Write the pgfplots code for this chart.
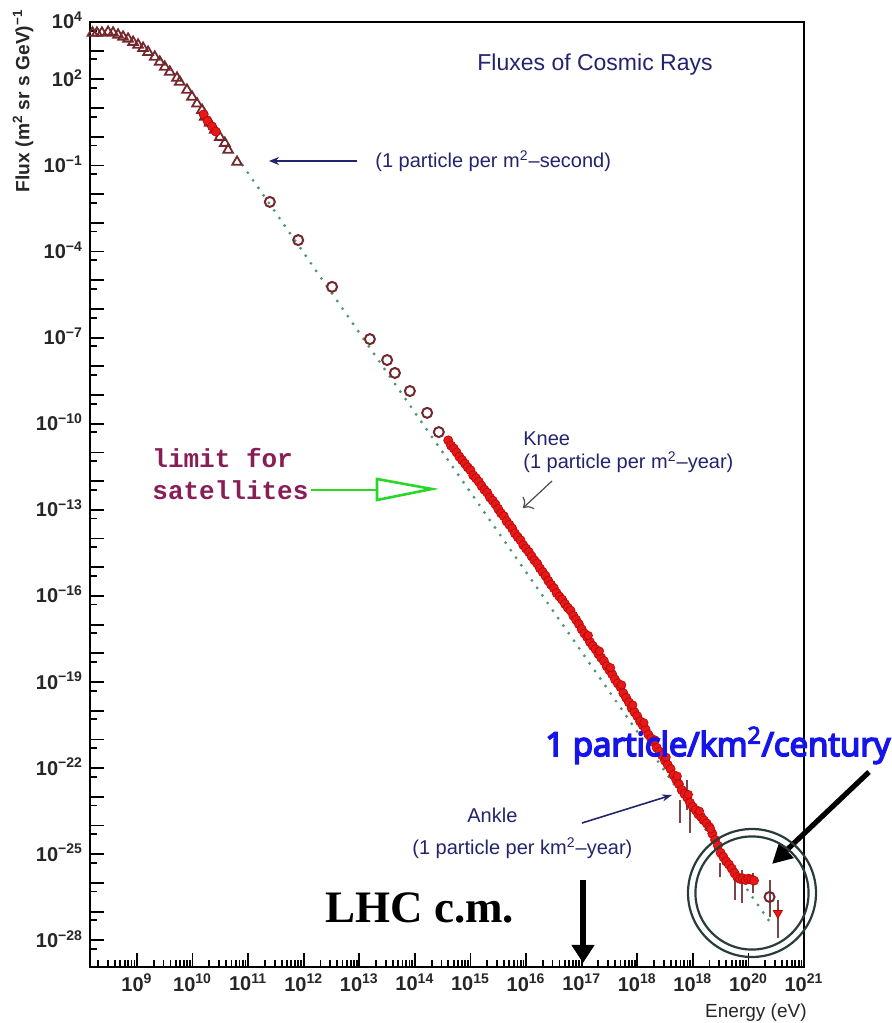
\documentclass[border=0pt]{standalone}
\usepackage{fontspec}
\setmainfont{Liberation Sans}
\newfontfamily\monob{Liberation Mono}
\newfontfamily\serifb{Liberation Serif}
\newfontfamily\notob{Open Sans}[AutoFakeBold=5]
\usepackage{pgfplots}
\pgfplotsset{compat=1.18}
\usetikzlibrary{arrows.meta}
\definecolor{navy}{RGB}{35,35,110}
\definecolor{dred}{RGB}{115,40,45}
\definecolor{bandred}{RGB}{228,25,25}
\definecolor{dotgreen}{RGB}{80,150,115}
\definecolor{limitpurple}{RGB}{135,30,85}
\definecolor{arrowgreen}{RGB}{40,215,40}
\definecolor{cblue}{RGB}{20,20,235}
\definecolor{ringc}{RGB}{40,60,60}
\definecolor{errc}{RGB}{120,70,70}
\gdef\mxt{8.301}
\foreach \n in {8,...,20}{\foreach \k in {0.301,0.477,0.602,0.699,0.778,0.845,0.903,0.954}{\pgfmathsetmacro\v{\n+\k}\xdef\mxt{\mxt,\v}}}
\pgfplotstableread{
x y
8.20 3.62
8.28 3.62
8.37 3.62
8.48 3.65
8.57 3.62
8.66 3.55
8.75 3.48
8.84 3.41
8.93 3.30
9.02 3.20
9.11 3.09
9.20 2.95
9.32 2.78
9.41 2.61
9.50 2.43
9.59 2.26
9.72 2.05
9.77 1.91
9.90 1.63
9.99 1.39
10.08 1.15
10.17 0.93
10.22 0.69
10.31 0.48
10.40 0.24
10.49 -0.01
10.58 -0.22
10.64 -0.46
10.80 -0.88
}\triangles
\pgfplotstableread{
x y
11.39 -2.27
11.90 -3.60
12.51 -5.23
13.19 -7.05
13.50 -7.78
13.64 -8.23
13.91 -8.86
14.22 -9.62
14.43 -10.29
}\circles
\pgfplotstableread{
x y
10.20 0.78
10.27 0.55
10.35 0.36
10.42 0.18
14.60 -10.58
14.65 -10.76
14.70 -10.86
14.75 -11.00
14.80 -11.15
14.85 -11.27
14.90 -11.39
14.95 -11.52
15.00 -11.62
15.05 -11.80
15.10 -11.90
15.15 -12.02
15.20 -12.17
15.25 -12.30
15.30 -12.40
15.35 -12.57
15.40 -12.68
15.45 -12.81
15.50 -12.97
15.55 -13.12
15.60 -13.22
15.65 -13.40
15.70 -13.52
15.75 -13.65
15.80 -13.82
15.85 -13.95
15.90 -14.06
15.95 -14.23
16.00 -14.35
16.05 -14.47
16.10 -14.62
16.15 -14.76
16.20 -14.87
16.25 -15.04
16.30 -15.17
16.35 -15.30
16.40 -15.47
16.45 -15.61
16.50 -15.73
16.55 -15.90
16.60 -16.02
16.65 -16.13
16.70 -16.28
16.75 -16.41
16.80 -16.51
16.85 -16.69
16.90 -16.83
16.95 -16.98
17.00 -17.16
17.05 -17.31
17.10 -17.44
17.15 -17.61
17.20 -17.74
17.25 -17.86
17.30 -18.02
17.35 -18.15
17.40 -18.27
17.45 -18.45
17.50 -18.59
17.55 -18.73
17.60 -18.91
17.65 -19.05
17.70 -19.18
17.75 -19.39
17.80 -19.55
17.85 -19.71
17.90 -19.91
17.95 -20.05
18.00 -20.19
18.05 -20.37
18.10 -20.51
18.15 -20.65
18.20 -20.83
18.25 -20.97
18.30 -21.10
18.35 -21.29
18.40 -21.43
18.45 -21.56
18.50 -21.74
18.55 -21.89
18.60 -22.03
18.65 -22.24
18.70 -22.40
18.75 -22.56
18.80 -22.76
18.85 -22.90
18.90 -23.03
18.95 -23.21
19.00 -23.35
19.05 -23.46
19.10 -23.61
19.15 -23.70
19.20 -23.82
19.25 -23.93
19.30 -24.06
19.35 -24.28
19.40 -24.50
19.45 -24.70
19.50 -24.95
19.55 -25.10
19.60 -25.25
19.65 -25.36
19.70 -25.50
19.75 -25.66
19.80 -25.80
19.85 -25.86
19.90 -25.84
19.95 -25.90
20.00 -25.85
20.05 -25.88
20.10 -25.92
}\band
\pgfplotstableread{
x y
17.12 -17.38
17.32 -17.92
17.52 -18.50
17.72 -19.10
17.92 -19.80
18.12 -20.42
18.32 -21.02
18.52 -21.62
18.72 -22.28
18.92 -22.92
19.12 -23.50
19.32 -24.12
}\bandb
\begin{document}
\begin{tikzpicture}
\useasboundingbox (0,0) rectangle (446pt,511.5pt);
\begin{axis}[
  at={(45pt,28pt)}, anchor=south west,
  width=357pt, height=472.5pt, scale only axis,
  xmin=8.155, xmax=21, ymin=-28.93, ymax=4,
  axis line style={line width=1pt},
  tick pos=left, tick align=inside,
  major tick length=7pt, minor tick length=3.5pt,
  tick style={black, line width=0.9pt},
  xtick={9,...,21},
  xticklabels={10\textsuperscript{9},10\textsuperscript{10},10\textsuperscript{11},10\textsuperscript{12},10\textsuperscript{13},10\textsuperscript{14},10\textsuperscript{15},10\textsuperscript{16},10\textsuperscript{17},10\textsuperscript{18},10\textsuperscript{18},10\textsuperscript{20},10\textsuperscript{21}},
  minor xtick/.expanded=\mxt,
  ytick={-28,-25,-22,-19,-16,-13,-10,-7,-4,-1,2,4},
  yticklabels={10\textsuperscript{−28},10\textsuperscript{−25},10\textsuperscript{−22},10\textsuperscript{−19},10\textsuperscript{−16},10\textsuperscript{−13},10\textsuperscript{−10},10\textsuperscript{−7},10\textsuperscript{−4},10\textsuperscript{−1},10\textsuperscript{2},10\textsuperscript{4}},
  extra y ticks={-27,-26,-24,-23,-21,-20,-18,-17,-15,-14,-12,-11,-9,-8,-6,-5,-3,-2,0,1,3},
  extra y tick labels={},
  minor ytick={-28.301,-27.301,-26.301,-25.301,-24.301,-23.301,-22.301,-21.301,-20.301,-19.301,-18.301,-17.301,-16.301,-15.301,-14.301,-13.301,-12.301,-11.301,-10.301,-9.301,-8.301,-7.301,-6.301,-5.301,-4.301,-3.301,-2.301,-1.301,-0.301,0.699,1.699,2.699,3.699},
  ticklabel style={font=\fontsize{10}{11}\selectfont\bfseries, text=black!85},
  yticklabel style={anchor=base east, yshift=-3.5pt},
]
\addplot[dotgreen, line width=1.6pt, dash pattern=on 0pt off 4.6pt, line cap=round] coordinates {(10.9,-0.99) (20.45,-27.54)};
\addplot[only marks, mark=triangle, mark size=2.8pt, mark options={draw=dred, line width=0.9pt, fill=white}] table {\triangles};
\addplot[only marks, mark=o, mark size=2.5pt, mark options={draw=dred, line width=1pt}] table {\circles};
\addplot[errc, line width=1pt, unbounded coords=jump] coordinates {
(18.77,-23.11) (18.77,-23.91) (18.77,nan)
(18.89,-22.41) (18.89,-23.46) (18.89,nan)
(18.95,-23.11) (18.95,-24.26) (18.95,nan)
(19.49,-25.30) (19.49,-25.79) (19.49,nan)
(19.76,-25.64) (19.76,-26.59) (19.76,nan)
(19.88,-25.55) (19.88,-26.70) (19.88,nan)
(20.08,-25.64) (20.08,-26.35) (20.08,nan)
(20.38,-25.89) (20.38,-27.18) (20.38,nan)
(20.53,-26.59) (20.53,-27.92)
};
\addplot[only marks, mark=*, mark size=2.3pt, mark options={draw=red!75!black, fill=bandred, line width=0.3pt}] table {\band};
\addplot[only marks, mark=*, mark size=2.1pt, mark options={draw=red!75!black, fill=bandred, line width=0.3pt}] table {\bandb};
\addplot[only marks, mark=o, mark size=2.5pt, mark options={draw=dred, line width=1pt, fill=white}] coordinates {(20.38,-26.49)};
\addplot[only marks, mark=triangle*, mark size=2.6pt, mark options={draw=red!75!black, fill=bandred, rotate=180}] coordinates {(20.53,-27.05)};
\end{axis}
\begin{scope}[shift={(0pt,511.5pt)}, x=0.5pt, y=-0.5pt, every node/.style={inner sep=0pt}]
  % axis titles
  \node[rotate=90, anchor=east, font=\fontsize{9.6}{10}\selectfont\bfseries, text=black!85] at (23,9) {Flux (m\textsuperscript{2} sr s GeV)\textsuperscript{−1}};
  \node[anchor=east, font=\fontsize{9.5}{10}\selectfont, text=black!85] at (807,1013) {Energy (eV)};
  % title
  \node[font=\fontsize{11.5}{12}\selectfont, text=navy] at (595,65) {Fluxes of Cosmic Rays};
  % 1 particle per m2 second
  \node[anchor=west, font=\fontsize{10}{11}\selectfont, text=navy] at (375,161) {(1 particle per m\textsuperscript{2}–second)};
  \draw[navy, line width=0.8pt, -{Stealth[length=5pt,width=4pt]}] (357,161) -- (269,161);
  % knee
  \node[anchor=west, font=\fontsize{10}{11}\selectfont, text=navy] at (523,439) {Knee};
  \node[anchor=west, font=\fontsize{10}{11}\selectfont, text=navy] at (523,462) {(1 particle per m\textsuperscript{2}–year)};
  \draw[black!70, line width=0.6pt, -{To[length=4pt]}] (552,481) -- (523,508);
  % ankle
  \node[anchor=west, font=\fontsize{10}{11}\selectfont, text=navy] at (467,815) {Ankle};
  \node[anchor=west, font=\fontsize{10}{11}\selectfont, text=navy] at (412,848) {(1 particle per km\textsuperscript{2}–year)};
  \draw[navy, line width=0.8pt, -{Stealth[length=5pt,width=3.5pt]}] (582,823) -- (672,795);
  % limit for satellites
  \node[anchor=west, font=\monob\fontsize{13}{14}\selectfont\bfseries, text=limitpurple] at (152,458) {limit for};
  \node[anchor=west, font=\monob\fontsize{13}{14}\selectfont\bfseries, text=limitpurple] at (152,490) {satellites};
  \draw[arrowgreen, line width=1.3pt] (311,490) -- (377,490);
  \draw[arrowgreen, line width=1.3pt, line join=miter] (377,479) -- (432,489) -- (377,500) -- cycle;
  % LHC
  \node[anchor=base west, font=\serifb\fontsize{22.5}{24}\selectfont\bfseries] at (325,923) {LHC c.m.};
  \draw[black, line width=2.6pt, -{Triangle[length=9pt,width=11pt]}] (583,880) -- (583,963);
  % century
  \node[anchor=base west, font=\notob\fontsize{16.5}{18}\selectfont\bfseries, text=cblue] at (545,756) {1 particle/km\textsuperscript{2}/century};
  \draw[black, line width=2.6pt, -{Triangle[length=10pt,width=10pt]}] (869,772) -- (772,864);
  % ring
  \draw[ringc, line width=1.1pt] (752,893) circle (32pt);
  \draw[ringc, line width=1.1pt] (752,893) circle (28.3pt);
\end{scope}
\end{tikzpicture}
\end{document}
